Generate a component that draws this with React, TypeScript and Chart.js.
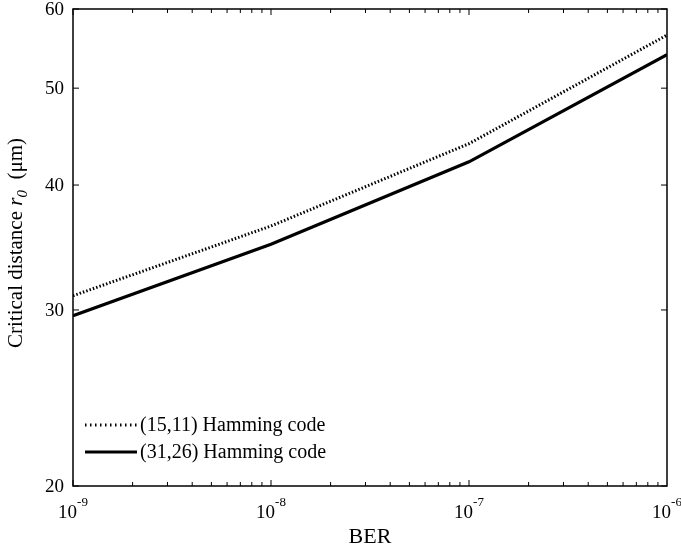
import React, { useEffect, useRef } from 'react';
import { Chart, registerables } from 'chart.js';

Chart.register(...registerables);

const berValues = [1e-9, 1e-8, 1e-7, 1e-6];
const hamming1511 = [31.0, 36.4, 44.0, 56.5];
const hamming3126 = [29.6, 34.9, 42.2, 54.0];
const seriesLabels = ['(15,11) Hamming code', '(31,26) Hamming code'];
const yTickValues = [20, 30, 40, 50, 60];
const xTickExponents = [-9, -8, -7, -6];
const xTitle = 'BER';

const SERIF = '"Liberation Serif", "Times New Roman", serif';

const framePlugin = {
  id: 'matlabFrame',
  afterDraw(chart: any) {
    const { ctx, chartArea, scales } = chart;
    const { left, right, top, bottom } = chartArea;
    const xs = scales.x;
    const ys = scales.y;
    ctx.save();
    ctx.strokeStyle = '#000';
    ctx.fillStyle = '#000';
    ctx.lineWidth = 1.5;
    ctx.setLineDash([]);
    ctx.strokeRect(left, top, right - left, bottom - top);

    // x ticks (major + minor), bottom & top, inward
    ctx.lineWidth = 1;
    for (let e = xTickExponents[0]; e < xTickExponents[xTickExponents.length - 1]; e++) {
      for (let m = 1; m <= 9; m++) {
        const v = m * Math.pow(10, e);
        const px = xs.getPixelForValue(v);
        const len = m === 1 ? 6 : 4;
        ctx.beginPath();
        ctx.moveTo(px, bottom);
        ctx.lineTo(px, bottom - len);
        ctx.moveTo(px, top);
        ctx.lineTo(px, top + len);
        ctx.stroke();
      }
    }
    // y ticks
    yTickValues.forEach((v) => {
      const py = ys.getPixelForValue(v);
      ctx.beginPath();
      ctx.moveTo(left, py);
      ctx.lineTo(left + 6, py);
      ctx.moveTo(right, py);
      ctx.lineTo(right - 6, py);
      ctx.stroke();
    });

    // y tick labels
    ctx.font = `19px ${SERIF}`;
    ctx.textAlign = 'right';
    ctx.textBaseline = 'middle';
    yTickValues.forEach((v) => {
      ctx.fillText(String(v), left - 9, ys.getPixelForValue(v) + 1);
    });

    // x tick labels 10^e
    ctx.textBaseline = 'alphabetic';
    ctx.textAlign = 'left';
    xTickExponents.forEach((e) => {
      const px = xs.getPixelForValue(Math.pow(10, e));
      ctx.font = `19px ${SERIF}`;
      const wb = ctx.measureText('10').width;
      ctx.font = `13px ${SERIF}`;
      const sup = String(e);
      const ws = ctx.measureText(sup).width;
      const x0 = px - (wb + ws) / 2;
      ctx.font = `19px ${SERIF}`;
      ctx.fillText('10', x0, bottom + 32);
      ctx.font = `13px ${SERIF}`;
      ctx.fillText(sup, x0 + wb, bottom + 20);
    });

    // x title
    ctx.font = `22px ${SERIF}`;
    ctx.textAlign = 'center';
    ctx.fillText(xTitle, (left + right) / 2, bottom + 57);

    // y title with italic r and subscript 0
    const parts = [
      { t: 'Critical distance ', f: `21px ${SERIF}`, dy: 0 },
      { t: 'r', f: `italic 21px ${SERIF}`, dy: 0 },
      { t: '0', f: `italic 15px ${SERIF}`, dy: 5 },
      { t: '  (\u03bcm)', f: `21px ${SERIF}`, dy: 0 },
    ];
    let total = 0;
    parts.forEach((p) => {
      ctx.font = p.f;
      total += ctx.measureText(p.t).width;
    });
    ctx.save();
    ctx.translate(22, 243);
    ctx.rotate(-Math.PI / 2);
    ctx.textAlign = 'left';
    let cx = -total / 2;
    parts.forEach((p) => {
      ctx.font = p.f;
      ctx.fillText(p.t, cx, p.dy);
      cx += ctx.measureText(p.t).width;
    });
    ctx.restore();

    // legend
    const datasets = chart.data.datasets;
    const rowsY = [bottom - 61, bottom - 34];
    datasets.forEach((ds: any, i: number) => {
      const y = rowsY[i];
      ctx.beginPath();
      ctx.lineWidth = 3;
      ctx.lineCap = 'butt';
      ctx.setLineDash(ds.borderDash && ds.borderDash.length ? [1.5, 3.5] : []);
      ctx.moveTo(left + 12, y);
      ctx.lineTo(left + 64, y);
      ctx.stroke();
      ctx.setLineDash([]);
      ctx.font = `20px ${SERIF}`;
      ctx.textAlign = 'left';
      ctx.textBaseline = 'middle';
      ctx.fillText(ds.label, left + 67, y + 1);
    });
    ctx.restore();
  },
};

export default function App() {
  const canvasRef = useRef<HTMLCanvasElement | null>(null);

  useEffect(() => {
    document.body.style.margin = '0';
    const canvas = canvasRef.current;
    if (!canvas) return;
    const chart = new Chart(canvas, {
      type: 'line',
      data: {
        datasets: [
          {
            label: seriesLabels[0],
            data: berValues.map((x, i) => ({ x, y: hamming1511[i] })),
            borderColor: '#000',
            borderWidth: 3,
            borderDash: [1.5, 2],
            borderCapStyle: 'butt',
            pointRadius: 0,
            tension: 0,
            fill: false,
          },
          {
            label: seriesLabels[1],
            data: berValues.map((x, i) => ({ x, y: hamming3126[i] })),
            borderColor: '#000',
            borderWidth: 3.2,
            pointRadius: 0,
            tension: 0,
            fill: false,
          },
        ],
      },
      options: {
        animation: false,
        responsive: false,
        maintainAspectRatio: false,
        devicePixelRatio: 1,
        layout: { padding: { left: 73, right: 14, top: 9, bottom: 63 } },
        plugins: {
          legend: { display: false },
          tooltip: { enabled: false },
          title: { display: false },
        },
        scales: {
          x: {
            type: 'logarithmic',
            display: false,
            min: berValues[0],
            max: berValues[berValues.length - 1],
          },
          y: {
            type: 'logarithmic',
            display: false,
            min: yTickValues[0],
            max: yTickValues[yTickValues.length - 1],
          },
        },
      } as any,
      plugins: [framePlugin],
    });
    return () => chart.destroy();
  }, []);

  return (
    <div style={{ width: 681, height: 549, background: '#fff' }}>
      <canvas ref={canvasRef} width={681} height={549} style={{ display: 'block' }} />
    </div>
  );
}
